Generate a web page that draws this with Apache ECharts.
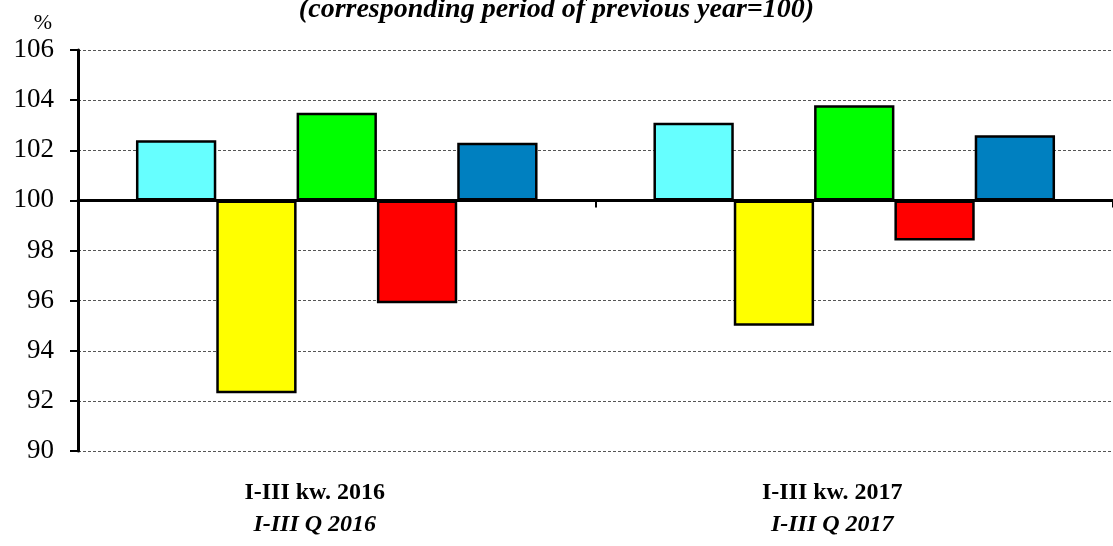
<!DOCTYPE html>
<html>
<head>
<meta charset="utf-8">
<script src="https://cdn.jsdelivr.net/npm/echarts@6/dist/echarts.min.js"></script>
<style>
  html, body { margin: 0; padding: 0; background: #fff; }
  #chart { width: 1113px; height: 546px; }
</style>
</head>
<body>
<div id="chart"></div>
<script>
// data (previous year = 100)
const categories = ['I-III kw. 2016\n{it|I-III Q 2016}', 'I-III kw. 2017\n{it|I-III Q 2017}'];
const seriesA = [102.4, 103.1];
const seriesB = [92.3, 95.0];
const seriesC = [103.5, 103.8];
const seriesD = [95.9, 98.4];
const seriesE = [102.3, 102.6];
const yTicks = [90, 92, 94, 96, 98, 100, 102, 104, 106];
const base = 100;

const chartDom = document.getElementById('chart');
const myChart = echarts.init(chartDom, null, { renderer: 'canvas' });

const colorList = ['#66FFFF', '#FFFF00', '#00FF00', '#FF0000', '#0080C0'];
const allSeries = [seriesA, seriesB, seriesC, seriesD, seriesE];
const serif = '"Liberation Serif", "DejaVu Serif", serif';

// bars are drawn as difference from 100 so they grow from the 100 line
const option = {
  backgroundColor: '#fff',
  animation: false,
  title: {
    text: '(corresponding period of previous year=100)',
    left: 'center',
    top: -9,
    textStyle: {
      fontFamily: serif,
      fontStyle: 'italic',
      fontWeight: 'bold',
      fontSize: 28,
      color: '#000'
    }
  },
  grid: {
    left: 78,
    right: 0,
    top: 50,
    bottom: 95
  },
  xAxis: [
    {
      type: 'category',
      data: categories,
      axisLine: {
        onZero: true,
        lineStyle: { color: '#000', width: 3 }
      },
      axisTick: {
        show: true,
        length: 7,
        lineStyle: { color: '#000', width: 2 }
      },
      axisLabel: { show: false },
      splitLine: { show: false }
    },
    {
      type: 'category',
      position: 'bottom',
      data: categories,
      axisLine: { show: false, onZero: false },
      axisTick: { show: false },
      axisLabel: {
        margin: 26,
        fontFamily: serif,
        fontWeight: 'bold',
        fontSize: 24,
        lineHeight: 32,
        color: '#000',
        padding: [0, 44, 0, 0],
        rich: {
          it: {
            fontFamily: serif,
            fontWeight: 'bold',
            fontStyle: 'italic',
            fontSize: 24,
            lineHeight: 32,
            color: '#000'
          }
        }
      }
    }
  ],
  yAxis: {
    type: 'value',
    min: yTicks[0] - base,
    max: yTicks[yTicks.length - 1] - base,
    interval: 2,
    name: '%',
    nameLocation: 'end',
    nameGap: 16,
    nameTextStyle: {
      fontFamily: serif,
      fontSize: 22,
      color: '#000',
      align: 'right',
      padding: [0, 26, 0, 0]
    },
    axisLine: {
      show: true,
      lineStyle: { color: '#000', width: 3 }
    },
    axisTick: {
      show: true,
      length: 8,
      lineStyle: { color: '#000', width: 2 }
    },
    axisLabel: {
      margin: 24,
      fontFamily: serif,
      fontSize: 27,
      color: '#000',
      formatter: function (v) { return String(Math.round(v + base)); }
    },
    splitLine: {
      show: true,
      lineStyle: { color: '#555', width: 1, type: [3, 2] }
    }
  },
  series: allSeries.map(function (arr, i) {
    return {
      name: 'Series ' + (i + 1),
      type: 'bar',
      xAxisIndex: 0,
      barGap: '0%',
      barCategoryGap: '22.4%',
      data: arr.map(function (v) { return +(v - base).toFixed(2); }),
      itemStyle: {
        color: colorList[i],
        borderColor: '#000',
        borderWidth: 2.5
      }
    };
  })
};

option && myChart.setOption(option);
</script>
</body>
</html>
